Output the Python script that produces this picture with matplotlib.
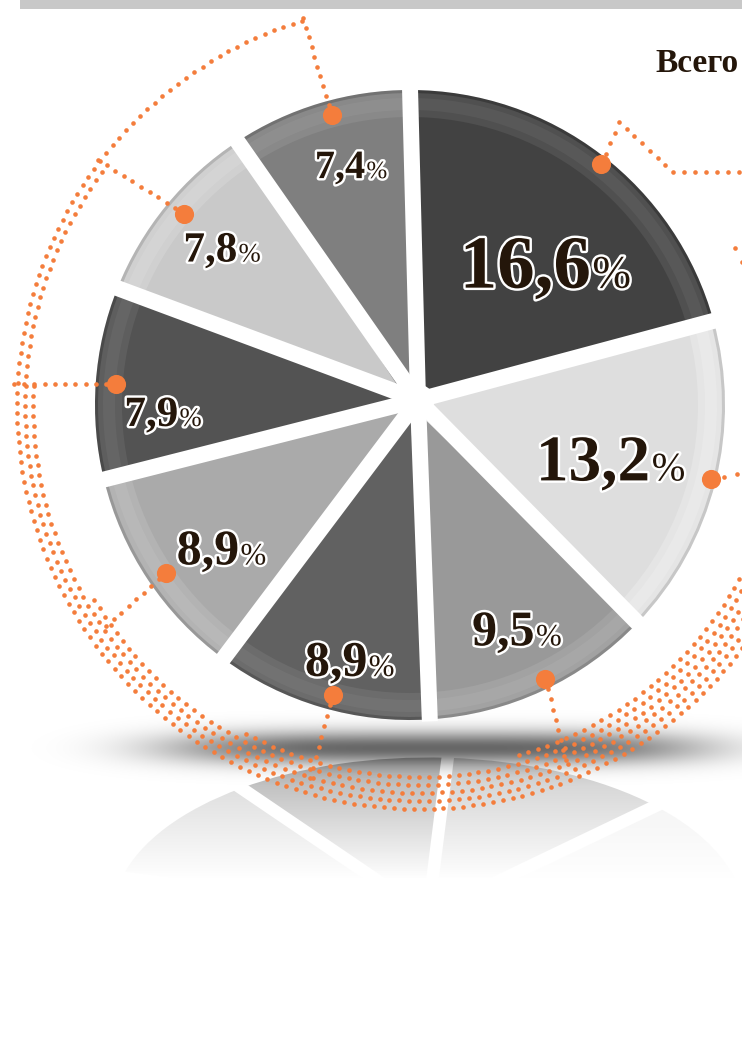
import numpy as np
import matplotlib.pyplot as plt
import matplotlib.patheffects as pe
from matplotlib.transforms import Affine2D
from matplotlib.patches import Rectangle
from matplotlib.offsetbox import TextArea, HPacker, AnnotationBbox

# data
values = [16.6, 13.2, 9.5, 8.9, 8.9, 7.9, 7.8, 7.4]
labels = ['16,6', '13,2', '9,5', '8,9', '8,9', '7,9', '7,8', '7,4']
colors = ['#424242', '#dedede', '#999999', '#616161', '#aaaaaa', '#535353', '#c9c9c9', '#7f7f7f']
rims = ['#5e5e5e', '#ececec', '#ababab', '#777777', '#bcbcbc', '#6a6a6a', '#d8d8d8', '#939393']
title = 'Всего'

# layout (pixels, y down)
W, H = 742, 1059
cx, cy, R = 410, 405, 315
apex = np.array([418.0, 400.0])
lab_c = (418, 405)
lab_r = [0.59, 0.64, 0.79, 0.85, 0.78, 0.81, 0.79, 0.78]
lab_da = [6, 3, 1.5, -1.6, -3.2, -6.5, -1.2, 0.8]
lab_fs = [54, 47, 36, 36, 36, 31, 31, 29]
# connector waypoints after the big dot of each slice
conn = [[(619, 122), (673, 172), (750, 172)],
        [(750, 472)],
        [(566, 760)],
        [(310, 778)],
        [(106, 626)],
        [(14, 384)],
        [(98, 160)],
        [(303, 18)]]
band_c = (420, 406)
band_r0, band_dr = 403, 8
row_start = [107, 143, 177, 210, 242, 285]
ref_c, ref_sq = (428, 915), 0.5

orange = '#f47d3c'
ink = '#24160a'
serif = 'Liberation Serif'

fig = plt.figure(figsize=(W / 100, H / 100), dpi=100)
ax = fig.add_axes([0, 0, 1, 1])


def dots(pts, step=10):
    pts = np.asarray(pts, float)
    out = []
    for a, b in zip(pts[:-1], pts[1:]):
        n = max(int(np.hypot(*(b - a)) / step), 1)
        t = np.arange(n) / n
        out.append(a + t[:, None] * (b - a))
    out.append(pts[-1:])
    return np.vstack(out)


# reflection (mirrored, squashed pie)
rw, _ = ax.pie(values, colors=colors, startangle=-90, center=(0, 0), radius=R,
               wedgeprops=dict(linewidth=0, zorder=1))
rtr = Affine2D().scale(1, -ref_sq).translate(*ref_c) + ax.transData
for w in rw:
    w.set_transform(rtr)
    t = np.radians(w.theta1)
    ax.plot([0, (R + 20) * np.cos(t)], [0, (R + 20) * np.sin(t)], color='white',
            lw=9, solid_capstyle='butt', transform=rtr, zorder=1.5)

# fade the reflection out
fy = np.linspace(745, H, 300)
fa = np.clip(0.5 + 0.5 * (fy - 757) / (878 - 757), 0.5, 1)
fade = np.ones((len(fy), 1, 4))
fade[:, 0, 3] = fa
ax.imshow(fade, extent=(0, W, H, 745), aspect='auto', zorder=2, interpolation='bilinear')

# shadow under the pie
xs = np.linspace(0, W, 400)
ys = np.linspace(700, 800, 120)
X, Y = np.meshgrid(xs, ys)
sh = np.zeros((len(ys), len(xs), 4))
sh[..., 3] = 0.6 * np.exp(-(np.abs(X - 435) / 270) ** 4 - ((Y - 748) / 17) ** 2)
ax.imshow(sh, extent=(0, W, 800, 700), aspect='auto', zorder=3, interpolation='bilinear')

# dotted band
for k, a0 in enumerate(row_start):
    r = band_r0 - k * band_dr
    step = np.degrees(10 / r)
    ang = np.radians(np.arange(a0 + (k % 2) * step / 2, 362, step))
    ax.scatter(band_c[0] + r * np.cos(ang), band_c[1] - r * np.sin(ang),
               s=11, c=orange, lw=0, zorder=4)
ex = dots([(735, 248), (742, 262)])
ax.scatter(ex[:, 0], ex[:, 1], s=11, c=orange, lw=0, zorder=4)

# main pie
wedges, _ = ax.pie(values, colors=colors, startangle=-90, center=(cx, cy), radius=R,
                   wedgeprops=dict(linewidth=0, zorder=5))
ax.pie(values, colors=rims, startangle=-90, center=(cx, cy), radius=R - 3,
       wedgeprops=dict(width=24, linewidth=0, alpha=0.5, zorder=5.1))
ax.pie(values, colors=rims, startangle=-90, center=(cx, cy), radius=R - 8,
       wedgeprops=dict(width=12, linewidth=0, alpha=0.6, zorder=5.2))
ax.pie(values, colors=['black'] * len(values), startangle=-90, center=(cx, cy), radius=R,
       wedgeprops=dict(width=3, linewidth=0, alpha=0.1, zorder=5.3))
for w in wedges:
    t = np.radians(w.theta1)
    d = np.array([np.cos(t), np.sin(t)])
    end = np.array([cx, cy]) + d * (R + 2)
    ax.plot([apex[0], end[0]], [apex[1], end[1]],
            color='white', lw=11.5, solid_capstyle='butt', zorder=6)
ax.scatter([apex[0]], [apex[1]], s=520, c='white', lw=0, zorder=6)

# labels, markers and connectors
for i, w in enumerate(wedges):
    m = np.radians((w.theta1 + w.theta2) / 2)
    px, py = lab_c[0] + 0.96 * R * np.cos(m), lab_c[1] + 0.96 * R * np.sin(m)
    path = dots([(px, py)] + conn[i])
    ax.scatter(path[1:, 0], path[1:, 1], s=11, c=orange, lw=0, zorder=6.5)
    ax.scatter([px], [py], s=190, c=orange, lw=0, zorder=7)

    a = np.radians((w.theta1 + w.theta2) / 2 + lab_da[i])
    lx, ly = lab_c[0] + lab_r[i] * R * np.cos(a), lab_c[1] + lab_r[i] * R * np.sin(a)
    stroke = [pe.withStroke(linewidth=3.5, foreground='white')]
    num = TextArea(labels[i], textprops=dict(fontsize=lab_fs[i], fontweight='bold', family=serif,
                                             color=ink, path_effects=stroke))
    pct = TextArea('%', textprops=dict(fontsize=lab_fs[i] * 0.62, family=serif,
                                       color=ink, path_effects=stroke))
    box = HPacker(children=[num, pct], align='baseline', pad=0, sep=1)
    ax.add_artist(AnnotationBbox(box, (lx, ly), frameon=False, box_alignment=(0.5, 0.5), zorder=8))

# header
ax.add_patch(Rectangle((20, 0), W - 20, 9, color='#c8c8c8', lw=0, zorder=9))
ax.text(655, 72, title, fontsize=24, fontweight='bold', family=serif, color=ink, zorder=9)

ax.set_xlim(0, W)
ax.set_ylim(H, 0)
ax.set_aspect('auto')
ax.axis('off')
fig.savefig('out.png', dpi=100)
